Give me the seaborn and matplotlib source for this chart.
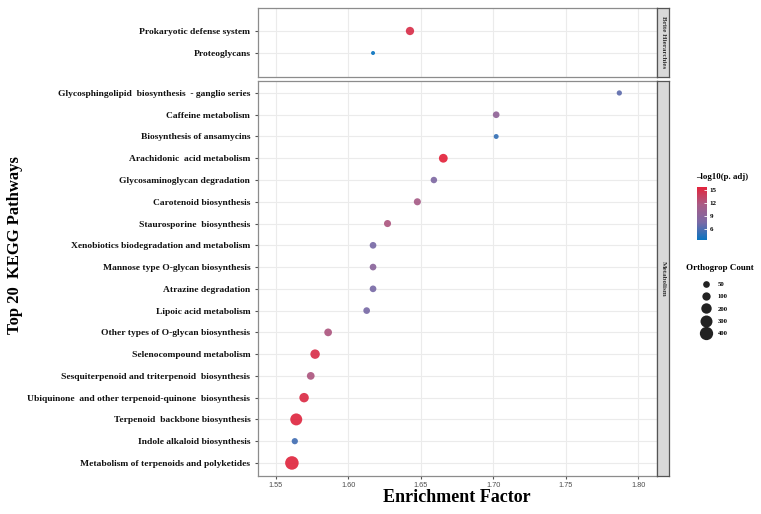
import numpy as np
import pandas as pd
import matplotlib
matplotlib.use("Agg")
import matplotlib.pyplot as plt
from matplotlib.colors import LinearSegmentedColormap, Normalize
from matplotlib.lines import Line2D
import seaborn as sns

# pathways, top group then bottom group (in plotting order, top to bottom)
brite_paths = ["Prokaryotic defense system", "Proteoglycans"]
brite_ef = [1.6425, 1.617]
brite_count = [100, 18]
brite_logp = [15.0, 3.4]

metab_paths = [
    "Glycosphingolipid  biosynthesis  - ganglio series",
    "Caffeine metabolism",
    "Biosynthesis of ansamycins",
    "Arachidonic  acid metabolism",
    "Glycosaminoglycan degradation",
    "Carotenoid biosynthesis",
    "Staurosporine  biosynthesis",
    "Xenobiotics biodegradation and metabolism",
    "Mannose type O-glycan biosynthesis",
    "Atrazine degradation",
    "Lipoic acid metabolism",
    "Other types of O-glycan biosynthesis",
    "Selenocompound metabolism",
    "Sesquiterpenoid and triterpenoid  biosynthesis",
    "Ubiquinone  and other terpenoid-quinone  biosynthesis",
    "Terpenoid  backbone biosynthesis",
    "Indole alkaloid biosynthesis",
    "Metabolism of terpenoids and polyketides",
]
metab_ef = [1.787, 1.702, 1.702, 1.6655, 1.659, 1.6476, 1.627, 1.617, 1.617,
            1.617, 1.6126, 1.586, 1.577, 1.574, 1.5694, 1.564, 1.563, 1.561]
metab_count = [25, 50, 22, 120, 45, 60, 60, 50, 50,
               50, 50, 80, 150, 80, 150, 300, 40, 420]
metab_logp = [6.5, 9.5, 5.0, 15.8, 8.0, 11.5, 12.0, 7.5, 9.0,
              7.5, 7.5, 12.0, 15.0, 12.0, 15.2, 15.5, 5.5, 15.6]

legend_counts = [50, 100, 200, 300, 400]
color_ticks = [6, 9, 12, 15]

df_top = pd.DataFrame({"path": brite_paths, "ef": brite_ef,
                       "count": brite_count, "logp": brite_logp})
df_bot = pd.DataFrame({"path": metab_paths, "ef": metab_ef,
                       "count": metab_count, "logp": metab_logp})

cmap = LinearSegmentedColormap.from_list(
    "pv", ["#0a74c0", "#7a6aa6", "#a85c86", "#e3243c"])
hnorm = (3.4, 15.8)

cmin, cmax = 18, 420


def diam_pt(c):
    d_px = 4.0 + 9.52 * np.sqrt(max(c - cmin, 0) / (cmax - cmin))
    return d_px * 72 / 100


all_counts = sorted(set(brite_count + metab_count))
size_map = {c: diam_pt(c) ** 2 for c in all_counts}

serif = "Liberation Serif"
plt.rcParams["font.family"] = serif

fig = plt.figure(figsize=(7.61, 5.14), dpi=100)
W, H = 761, 514


def fax(x0, y0, x1, y1):
    return fig.add_axes([x0 / W, 1 - y1 / H, (x1 - x0) / W, (y1 - y0) / H])


ax_top = fax(258, 8, 657, 77)
ax_bot = fax(258, 81, 657, 476)

for ax, d, ylim in [(ax_top, df_top, (2.09, -1.045)),
                    (ax_bot, df_bot, (17.6, -0.55))]:
    sns.scatterplot(data=d, x="ef", y="path", hue="logp", size="count",
                    palette=cmap, hue_norm=hnorm, sizes=size_map,
                    linewidth=0, alpha=0.92, legend=False, ax=ax, zorder=3)
    ax.set_xlim(1.5376, 1.813)
    ax.set_ylim(*ylim)
    ax.set_xticks([1.55, 1.60, 1.65, 1.70, 1.75, 1.80])
    ax.grid(True, color="#ebebeb", linewidth=0.8, zorder=0)
    ax.set_axisbelow(True)
    ax.set_xlabel("")
    ax.set_ylabel("")
    for s in ax.spines.values():
        s.set_color("#8c8c8c")
        s.set_linewidth(0.9)
    ax.tick_params(axis="y", length=2.5, color="#555555", pad=3,
                   labelsize=6.8)
    ax.tick_params(axis="x", length=2.5, color="#555555", pad=2,
                   labelsize=5.3, labelcolor="#4d4d4d")
    for lab in ax.get_yticklabels():
        lab.set_fontweight("bold")
        lab.set_color("#111111")
    for lab in ax.get_xticklabels():
        lab.set_fontfamily("Liberation Sans")

ax_top.tick_params(axis="x", length=0, labelbottom=False)

# facet strips
for (y0, y1, txt) in [(8, 77, "Brite Hierarchies"), (81, 476, "Metabolism")]:
    sax = fax(657, y0, 669, y1)
    sax.set_facecolor("#d9d9d9")
    sax.set_xticks([])
    sax.set_yticks([])
    for s in sax.spines.values():
        s.set_color("#555555")
        s.set_linewidth(0.9)
    sax.text(0.5, 0.5, txt, rotation=-90, ha="center", va="center",
             fontsize=5, fontweight="bold", color="#333333",
             transform=sax.transAxes)

fig.text(457 / W, 1 - 497 / H, "Enrichment Factor", ha="center",
         va="center", fontsize=13, fontweight="bold")
fig.text(15 / W, 1 - 245 / H, "Top 20  KEGG Pathways", ha="center",
         va="center", rotation=90, fontsize=12, fontweight="bold")

# colour legend
fig.text(722 / W, 1 - 177 / H, "\u2013log10(p. adj)", ha="center",
         va="center", fontsize=6.3, fontweight="bold")
cax = fax(697, 187, 707, 240)
sm = plt.cm.ScalarMappable(cmap=cmap, norm=Normalize(*hnorm))
cb = fig.colorbar(sm, cax=cax)
cb.outline.set_visible(False)
cb.set_ticks(color_ticks)
cax.tick_params(length=2, color="white", width=0.6, labelsize=5, pad=2,
                direction="in")
for lab in cax.get_yticklabels():
    lab.set_fontweight("bold")

# size legend
fig.text(720 / W, 1 - 268 / H, "Orthogrop Count", ha="center",
         va="center", fontsize=6.5, fontweight="bold")
handles = [Line2D([], [], marker="o", linestyle="", color="#222222",
                  markeredgewidth=0, markersize=diam_pt(c))
           for c in legend_counts]
leg = fig.legend(handles, [str(c) for c in legend_counts],
                 loc="upper left", bbox_to_anchor=(694 / W, 1 - 278 / H),
                 frameon=False, prop={"size": 4.8, "weight": "bold"},
                 handletextpad=0.5, labelspacing=1.0, borderpad=0,
                 handlelength=2.6)

fig.savefig("out.png", dpi=100)
